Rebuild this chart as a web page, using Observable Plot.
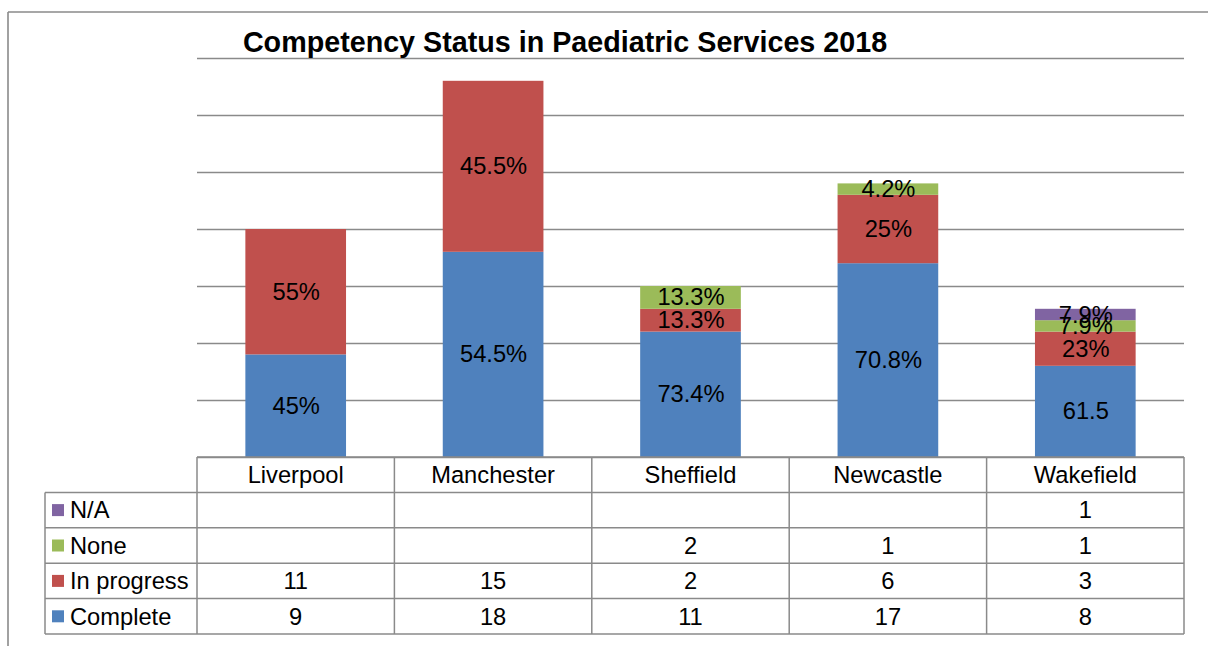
<!DOCTYPE html>
<html>
<head>
<meta charset="utf-8">
<script src="https://cdn.jsdelivr.net/npm/d3@7"></script>
<script src="https://cdn.jsdelivr.net/npm/@observablehq/plot@0.6"></script>
<style>
  html, body { margin: 0; padding: 0; background: #fff; }
  #chart svg { display: block; }
</style>
</head>
<body>
<div id="chart"></div>
<script>
const title = "Competency Status in Paediatric Services 2018";
const cities = ["Liverpool", "Manchester", "Sheffield", "Newcastle", "Wakefield"];
const statuses = ["Complete", "In progress", "None", "N/A"];
const colors = ["#4F81BD", "#C0504D", "#9BBB59", "#8064A2"];

const completeCounts = [9, 18, 11, 17, 8];
const inProgressCounts = [11, 15, 2, 6, 3];
const noneCounts = [null, null, 2, 1, 1];
const naCounts = [null, null, null, null, 1];

const completeLabels = ["45%", "54.5%", "73.4%", "70.8%", "61.5"];
const inProgressLabels = ["55%", "45.5%", "13.3%", "25%", "23%"];
const noneLabels = ["", "", "13.3%", "4.2%", "7.9%"];
const naLabels = ["", "", "", "", "7.9%"];

const countsBy = {"Complete": completeCounts, "In progress": inProgressCounts, "None": noneCounts, "N/A": naCounts};
const labelsBy = {"Complete": completeLabels, "In progress": inProgressLabels, "None": noneLabels, "N/A": naLabels};

const rows = [];
cities.forEach((city, i) => {
  statuses.forEach(status => {
    rows.push({city, status, value: countsBy[status][i] ?? 0, label: labelsBy[status][i]});
  });
});

const FONT = "'Liberation Sans', Arial, Helvetica, sans-serif";
const FS = 23.7;
const LINE = "#8a8a8a";

const plot = Plot.plot({
  width: 1208,
  height: 646,
  marginLeft: 197,
  marginRight: 24,
  marginTop: 58,
  marginBottom: 189,
  style: {fontFamily: FONT, background: "#fff"},
  x: {domain: cities, paddingInner: 0.49, paddingOuter: 0.245, round: false, axis: null},
  y: {domain: [0, 35], ticks: 7, axis: null},
  color: {domain: statuses, range: colors},
  marks: [
    Plot.gridY({ticks: 7, stroke: LINE, strokeOpacity: 1, strokeWidth: 1.5}),
    Plot.barY(rows, {x: "city", y: "value", fill: "status", order: statuses}),
    Plot.text(rows, Plot.stackY({x: "city", y: "value", z: "status", order: statuses, text: "label", fill: "#000", fontSize: FS, fontFamily: FONT}))
  ]
});

document.getElementById("chart").appendChild(plot);

const svg = d3.select(plot);
const xs = plot.scale("x");
const ys = plot.scale("y");
const step = xs.step;
const bw = xs.bandwidth;
const xL = xs.range[0];
const xR = xs.range[1];
const y0 = ys.apply(0);
const rh = 35.4;
const leftEdge = 45;
const g = svg.append("g").attr("font-family", FONT).attr("font-size", FS);

// outer frame (top & left, as cropped in reference)
g.append("line").attr("x1", 8).attr("x2", 1208).attr("y1", 12).attr("y2", 12).attr("stroke", LINE).attr("stroke-width", 1.6);
g.append("line").attr("x1", 8).attr("x2", 8).attr("y1", 12).attr("y2", 646).attr("stroke", LINE).attr("stroke-width", 1.6);

// title
g.append("text").attr("x", 565).attr("y", 52).attr("text-anchor", "middle")
  .attr("font-weight", "bold").attr("font-size", 28.7).attr("fill", "#000").text(title);

// table horizontal lines
g.append("line").attr("x1", xL).attr("x2", xR).attr("y1", y0).attr("y2", y0).attr("stroke", LINE).attr("stroke-width", 1.5);
for (let k = 1; k <= 5; k++) {
  g.append("line").attr("x1", leftEdge).attr("x2", xR).attr("y1", y0 + rh * k).attr("y2", y0 + rh * k).attr("stroke", LINE).attr("stroke-width", 1.5);
}
// vertical lines
for (let i = 0; i <= cities.length; i++) {
  const xv = xL + step * i;
  g.append("line").attr("x1", xv).attr("x2", xv).attr("y1", y0).attr("y2", y0 + rh * 5).attr("stroke", LINE).attr("stroke-width", 1.5);
}
g.append("line").attr("x1", leftEdge).attr("x2", leftEdge).attr("y1", y0 + rh).attr("y2", y0 + rh * 5).attr("stroke", LINE).attr("stroke-width", 1.5);

// header
cities.forEach(city => {
  g.append("text").attr("x", xs.apply(city) + bw / 2).attr("y", y0 + rh / 2).attr("dy", "0.35em")
    .attr("text-anchor", "middle").attr("fill", "#000").text(city);
});

// rows (top to bottom: N/A, None, In progress, Complete)
const tableOrder = statuses.slice().reverse();
tableOrder.forEach((status, r) => {
  const cy = y0 + rh * (r + 1) + rh / 2;
  g.append("rect").attr("x", 52).attr("y", cy - 6).attr("width", 12).attr("height", 12)
    .attr("fill", colors[statuses.indexOf(status)]);
  g.append("text").attr("x", 70).attr("y", cy).attr("dy", "0.35em").attr("text-anchor", "start")
    .attr("fill", "#000").text(status);
  cities.forEach((city, i) => {
    const v = countsBy[status][i];
    if (v != null) {
      g.append("text").attr("x", xs.apply(city) + bw / 2).attr("y", cy).attr("dy", "0.35em")
        .attr("text-anchor", "middle").attr("fill", "#000").text(v);
    }
  });
});
</script>
</body>
</html>
